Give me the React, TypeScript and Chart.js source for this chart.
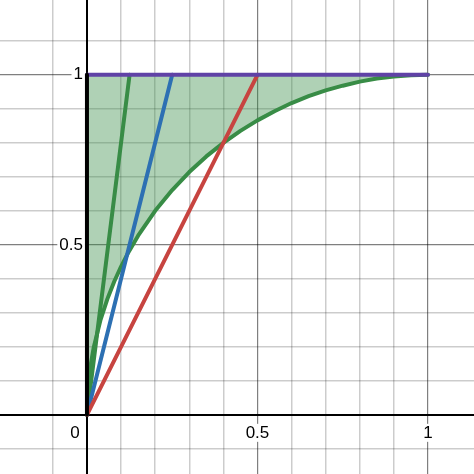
import { useEffect, useRef } from "react";
import { Chart, registerables } from "chart.js";

Chart.register(...registerables);

// visible window of the graph
const xRange = [-0.255, 1.135];
const yRange = [-0.174, 1.22];
const gridStep = 0.1;

// quarter arc
const arcX = [0, 0.005, 0.01, 0.02, 0.04, 0.06, 0.08, 0.1, 0.12, 0.15, 0.2, 0.25, 0.3, 0.35, 0.4, 0.45, 0.5, 0.55, 0.6, 0.65, 0.7, 0.75, 0.8, 0.85, 0.9, 0.95, 1];
const arcY = [0, 0.1, 0.141, 0.199, 0.28, 0.341, 0.392, 0.436, 0.475, 0.527, 0.6, 0.661, 0.714, 0.76, 0.8, 0.835, 0.866, 0.893, 0.917, 0.937, 0.954, 0.968, 0.98, 0.989, 0.995, 0.999, 1];

// straight segments
const steepX = [0, 0.125];
const steepY = [0, 1];
const blueX = [0, 0.25];
const blueY = [0, 1];
const redX = [0, 0.5];
const redY = [0, 1];
const topX = [0, 1];
const topY = [1, 1];
const edgeX = [0, 0];
const edgeY = [0, 1];

// axis numbers
const xTickValues = [0.5, 1];
const xTickLabels = ["0.5", "1"];
const yTickValues = [0.5, 1];
const yTickLabels = ["0.5", "1"];
const originLabel = "0";

const pts = (xs: number[], ys: number[]) => xs.map((x, i) => ({ x, y: ys[i] }));

const onStep = (v: number, step: number) => Math.abs(v / step - Math.round(v / step)) < 1e-6;

const gridColor = (v: number) => {
  if (!onStep(v, gridStep)) return "rgba(0,0,0,0)";
  if (Math.abs(v) < 1e-9) return "#000000";
  if (onStep(v, 0.5)) return "rgba(0,0,0,0.5)";
  return "rgba(0,0,0,0.2)";
};

const gridWidth = (v: number) => {
  if (Math.abs(v) < 1e-9) return 2;
  if (onStep(v, 0.5)) return 1.2;
  return 1.5;
};

const labelPlugin = {
  id: "axisLabels",
  beforeDatasetsDraw(chart: any) {
    const { ctx, scales } = chart;
    const xs = scales.x;
    const ys = scales.y;
    const x0 = xs.getPixelForValue(0);
    const y0 = ys.getPixelForValue(0);
    ctx.save();
    ctx.font = '17px "Liberation Sans", Arial, sans-serif';
    ctx.textBaseline = "middle";
    const put = (text: string, px: number, py: number, align: "center" | "right") => {
      const w = ctx.measureText(text).width;
      const left = align === "center" ? px - w / 2 : px - w;
      ctx.fillStyle = "#ffffff";
      ctx.fillRect(left - 2, py - 9, w + 4, 18);
      ctx.fillStyle = "#000000";
      ctx.textAlign = align;
      ctx.fillText(text, px, py);
    };
    xTickValues.forEach((v, i) => put(xTickLabels[i], xs.getPixelForValue(v), y0 + 18, "center"));
    yTickValues.forEach((v, i) => put(yTickLabels[i], x0 - 4, ys.getPixelForValue(v), "right"));
    put(originLabel, x0 - 12, y0 + 18, "center");
    ctx.restore();
  },
};

// lower order is drawn on top
const lineSet = (data: { x: number; y: number }[], color: string, order: number) => ({
  data,
  order,
  borderColor: color,
  backgroundColor: color,
  borderWidth: 4,
  borderCapStyle: "round" as const,
  borderJoinStyle: "round" as const,
  pointRadius: 0,
  fill: false,
  tension: 0,
});

export default function App() {
  const canvasRef = useRef<HTMLCanvasElement>(null);
  const chartRef = useRef<Chart | null>(null);

  useEffect(() => {
    document.body.style.margin = "0";
    if (!canvasRef.current) return;
    if (chartRef.current) chartRef.current.destroy();
    const ctx = canvasRef.current.getContext("2d");
    if (!ctx) return;

    const axisOpts = (range: number[]) => ({
      type: "linear" as const,
      min: range[0],
      max: range[1],
      ticks: { display: false, stepSize: gridStep, maxTicksLimit: 100 },
      border: { display: false },
      grid: {
        drawTicks: false,
        color: (c: any) => gridColor(c.tick.value),
        lineWidth: (c: any) => gridWidth(c.tick.value),
      },
    });

    chartRef.current = new Chart(ctx, {
      type: "line",
      data: {
        datasets: [
          {
            ...lineSet(pts(arcX, arcY), "#388c46", 6),
            fill: { value: 1 },
            backgroundColor: "rgba(56,140,70,0.4)",
          },
          lineSet(pts(steepX, steepY), "#388c46", 5),
          lineSet(pts(blueX, blueY), "#2d70b3", 4),
          lineSet(pts(redX, redY), "#c74440", 3),
          lineSet(pts(topX, topY), "#6042a6", 2),
          lineSet(pts(edgeX, edgeY), "#000000", 1),
        ] as any,
      },
      options: {
        responsive: false,
        animation: false,
        parsing: false,
        layout: { padding: 0 },
        plugins: { legend: { display: false }, tooltip: { enabled: false } },
        scales: {
          x: axisOpts(xRange),
          y: axisOpts(yRange),
        },
      },
      plugins: [labelPlugin],
    });

    return () => {
      if (chartRef.current) {
        chartRef.current.destroy();
        chartRef.current = null;
      }
    };
  }, []);

  return (
    <div style={{ width: 474, height: 474 }}>
      <canvas ref={canvasRef} width={474} height={474} style={{ display: "block" }} />
    </div>
  );
}
